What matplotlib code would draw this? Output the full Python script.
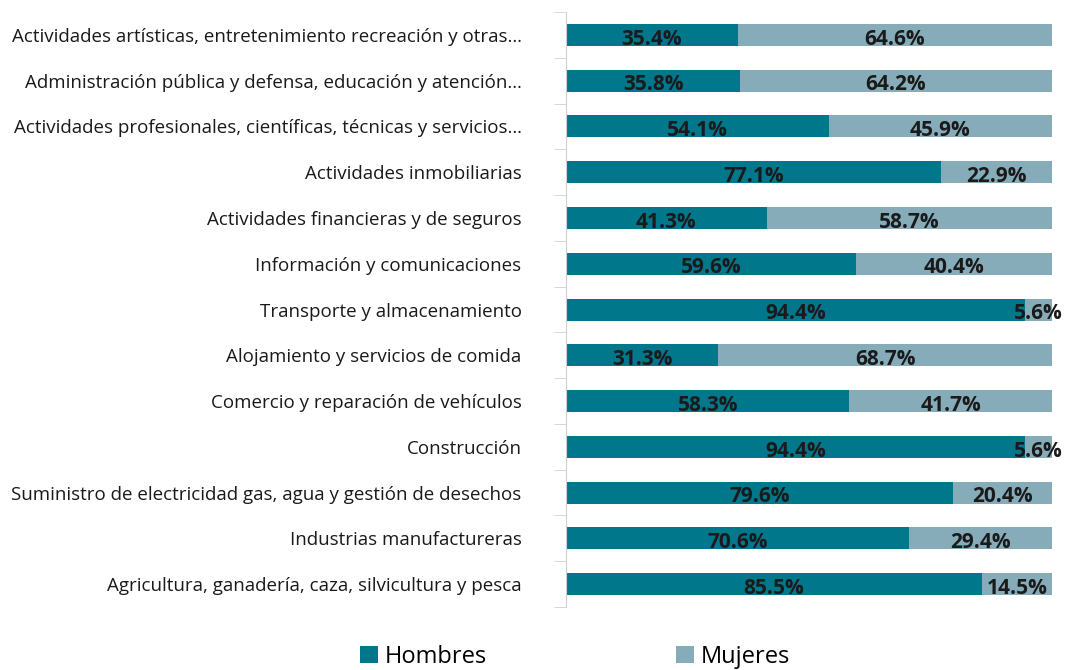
import matplotlib.pyplot as plt
import numpy as np

categories = [
    "Agricultura, ganadería, caza, silvicultura y pesca",
    "Industrias manufactureras",
    "Suministro de electricidad gas, agua y gestión de desechos",
    "Construcción",
    "Comercio y reparación de vehículos",
    "Alojamiento y servicios de comida",
    "Transporte y almacenamiento",
    "Información y comunicaciones",
    "Actividades financieras y de seguros",
    "Actividades inmobiliarias",
    "Actividades profesionales, científicas, técnicas y servicios…",
    "Administración pública y defensa, educación y atención…",
    "Actividades artísticas, entretenimiento recreación y otras…",
]
hombres = [85.5, 70.6, 79.6, 94.4, 58.3, 31.3, 94.4, 59.6, 41.3, 77.1, 54.1, 35.8, 35.4]
mujeres = [14.5, 29.4, 20.4, 5.6, 41.7, 68.7, 5.6, 40.4, 58.7, 22.9, 45.9, 64.2, 64.6]

c_h = "#00778B"
c_m = "#86ACBA"

plt.rcParams["font.family"] = ["Open Sans", "DejaVu Sans"]

fig = plt.figure(figsize=(10.65, 6.70), dpi=100)
ax = fig.add_axes([0.5315, 0.094, 0.4563, 0.888])

y = np.arange(len(categories))
ax.barh(y, hombres, height=0.48, color=c_h, label="Hombres")
ax.barh(y, mujeres, left=hombres, height=0.48, color=c_m, label="Mujeres")

for i in range(len(categories)):
    ax.annotate(f"{hombres[i]:.1f}%", (hombres[i] / 2, y[i]), xytext=(0, -3),
                textcoords="offset points", ha="center", va="center",
                fontsize=15, fontweight="bold", color="#1a1a1a")
    ax.annotate(f"{mujeres[i]:.1f}%", (hombres[i] + mujeres[i] / 2, y[i]), xytext=(0, -3),
                textcoords="offset points", ha="center", va="center",
                fontsize=15, fontweight="bold", color="#1a1a1a")

ax.set_xlim(0, 100)
ax.set_ylim(-0.5, len(categories) - 0.5)
ax.set_yticks(y)
ax.set_yticklabels(categories, fontsize=13.5, color="#1a1a1a")
ax.set_yticks(np.arange(-0.5, len(categories), 1), minor=True)
ax.tick_params(axis="y", which="major", length=0, pad=32)
ax.tick_params(axis="y", which="minor", length=9, color="#d0d0d0", direction="out")
ax.set_xticks([])
for s in ["top", "right", "bottom"]:
    ax.spines[s].set_visible(False)
ax.spines["left"].set_color("#d0d0d0")

fig.legend(handles=ax.get_legend_handles_labels()[0], labels=["Hombres", "Mujeres"],
           loc="center", bbox_to_anchor=(0.54, 0.02), ncol=2, frameon=False,
           fontsize=17, handlelength=0.75, handleheight=0.75, handletextpad=0.3,
           columnspacing=8)

fig.savefig("out.png", dpi=100)
